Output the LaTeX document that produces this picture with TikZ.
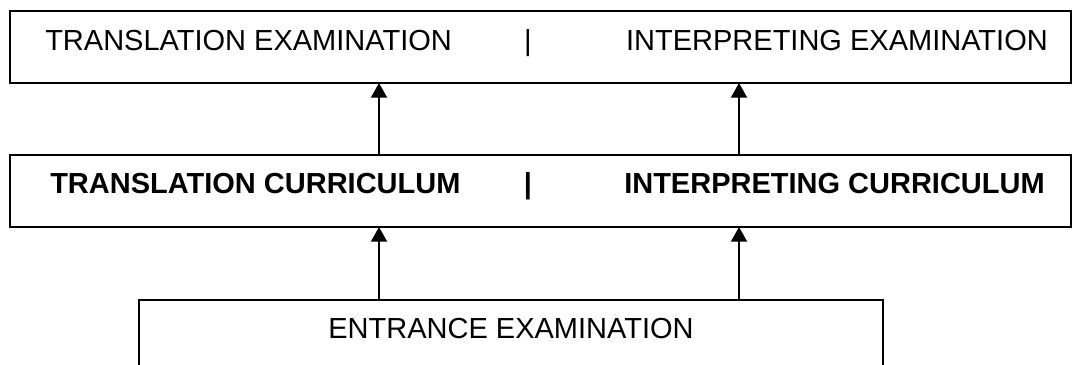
\documentclass[tikz,border=0pt]{standalone}
\usepackage{fontspec}
\setmainfont{Liberation Sans}
\usetikzlibrary{arrows.meta}
\begin{document}
\begin{tikzpicture}[x=0.75pt,y=-0.75pt,
  panel/.style={draw=black,line width=1.2pt,inner sep=0pt,outer sep=0pt,
    minimum width=795.75pt,minimum height=54pt},
  label/.style={inner sep=0pt,font=\fontsize{21.75}{26}\selectfont},
  boldlabel/.style={label,font=\fontsize{21.75}{26}\selectfont\bfseries},
  uparrow/.style={line width=1.5pt,-{Triangle[width=12pt,length=11pt]}}]
\useasboundingbox (0,0) rectangle (1073,364);
\clip (0,0) rectangle (1073,364);
% the three rows of boxes
\node[panel] (exam) at (540.5,47) {};
\node[panel] (curr) at (540.5,191) {};
\node[panel,minimum width=558pt,minimum height=60pt] (entry) at (511,340) {};
% row texts
\node[label,anchor=base west] (t1) at (45,50) {TRANSLATION EXAMINATION};
\node[label,anchor=base] (t2) at (528,50) {|};
\node[label,anchor=base east] (t3) at (1048,50) {INTERPRETING EXAMINATION};
\node[boldlabel,anchor=base west] (c1) at (50,193) {TRANSLATION CURRICULUM};
\node[boldlabel,anchor=base] (c2) at (528,193) {|};
\node[boldlabel,anchor=base east] (c3) at (1045,193) {INTERPRETING CURRICULUM};
\node[label,anchor=base] (e1) at (511,338) {ENTRANCE EXAMINATION};
% arrow columns
\coordinate (left) at (379,0);
\coordinate (right) at (739,0);
\draw[uparrow] (entry.north -| left) -- (curr.south -| left);
\draw[uparrow] (entry.north -| right) -- (curr.south -| right);
\draw[uparrow] (curr.north -| left) -- (exam.south -| left);
\draw[uparrow] (curr.north -| right) -- (exam.south -| right);
\end{tikzpicture}
\end{document}
